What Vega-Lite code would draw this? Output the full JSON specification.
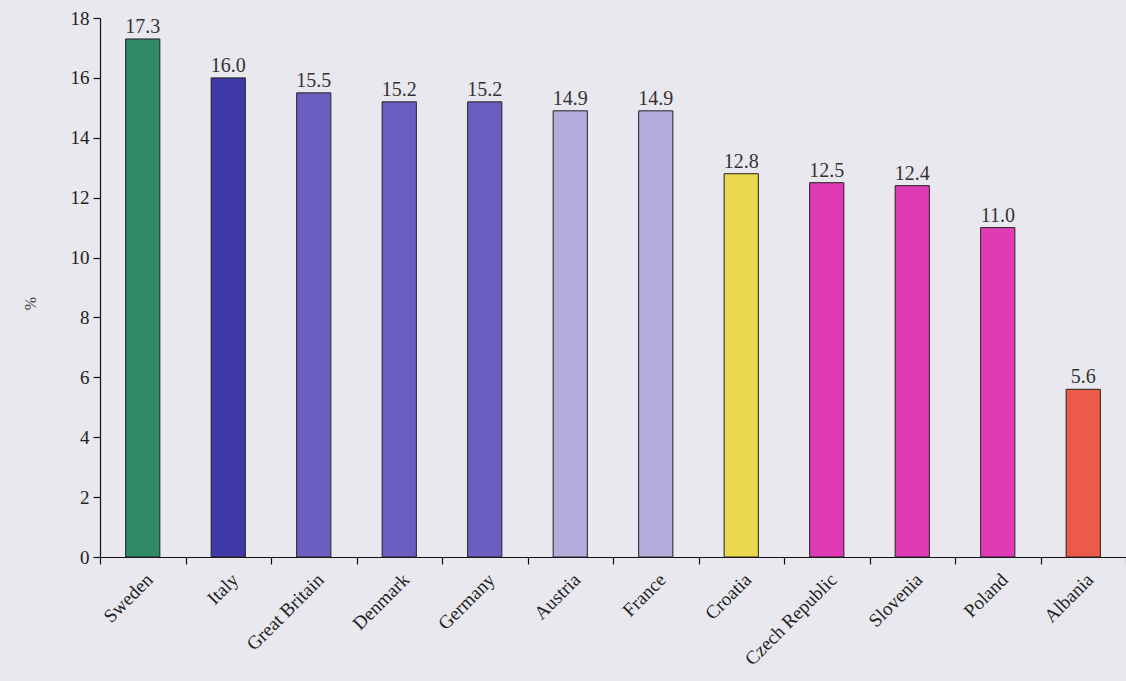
{
  "$schema": "https://vega.github.io/schema/vega-lite/v6.json",
  "autosize": "none",
  "width": 1026,
  "height": 539,
  "padding": {"left": 100, "top": 18, "right": 0, "bottom": 124},
  "background": "#e8e8ee",
  "config": {
    "view": {"stroke": null},
    "font": "Liberation Serif, Times New Roman, serif"
  },
  "data": {
    "values": [
      {"country": "Sweden", "value": 17.3},
      {"country": "Italy", "value": 16.0},
      {"country": "Great Britain", "value": 15.5},
      {"country": "Denmark", "value": 15.2},
      {"country": "Germany", "value": 15.2},
      {"country": "Austria", "value": 14.9},
      {"country": "France", "value": 14.9},
      {"country": "Croatia", "value": 12.8},
      {"country": "Czech Republic", "value": 12.5},
      {"country": "Slovenia", "value": 12.4},
      {"country": "Poland", "value": 11.0},
      {"country": "Albania", "value": 5.6}
    ]
  },
  "encoding": {
    "x": {
      "field": "country",
      "type": "nominal",
      "sort": null,
      "scale": {"paddingInner": 0, "paddingOuter": 0},
      "axis": {
        "title": null,
        "labelAngle": -45,
        "labelFont": "Liberation Serif, Times New Roman, serif",
        "labelFontSize": 19,
        "labelColor": "#222",
        "labelPadding": 6,
        "tickBand": "extent",
        "tickSize": 7,
        "tickColor": "#111",
        "domainColor": "#111",
        "tickWidth": 1.2,
        "domainWidth": 1.2
      }
    },
    "y": {
      "field": "value",
      "type": "quantitative",
      "scale": {"domain": [0, 18], "nice": false},
      "axis": {
        "title": "%",
        "titleFont": "Liberation Serif, Times New Roman, serif",
        "titleFontSize": 16,
        "titleFontWeight": "normal",
        "titleColor": "#444",
        "titleX": -62,
        "titleY": 285,
        "values": [0, 2, 4, 6, 8, 10, 12, 14, 16, 18],
        "grid": false,
        "labelFont": "Liberation Serif, Times New Roman, serif",
        "labelFontSize": 19,
        "labelColor": "#222",
        "labelPadding": 4,
        "tickSize": 7,
        "tickColor": "#111",
        "domainColor": "#111",
        "tickWidth": 1.2,
        "domainWidth": 1.2
      }
    }
  },
  "layer": [
    {
      "mark": {"type": "bar", "width": {"band": 0.4}, "stroke": "#222", "strokeWidth": 1},
      "encoding": {
        "color": {
          "field": "country",
          "type": "nominal",
          "legend": null,
          "scale": {
            "domain": ["Sweden", "Italy", "Great Britain", "Denmark", "Germany", "Austria", "France", "Croatia", "Czech Republic", "Slovenia", "Poland", "Albania"],
            "range": ["#2f8a68", "#3f3aa8", "#6a5fc0", "#6a5fc0", "#6a5fc0", "#b3acdc", "#b3acdc", "#ead94c", "#e03ab5", "#e03ab5", "#e03ab5", "#ec5a4a"]
          }
        }
      }
    },
    {
      "mark": {"type": "text", "dy": -12, "fontSize": 20, "font": "Liberation Serif, Times New Roman, serif", "color": "#333"},
      "encoding": {
        "text": {"field": "value", "type": "quantitative", "format": ".1f"}
      }
    }
  ]
}
